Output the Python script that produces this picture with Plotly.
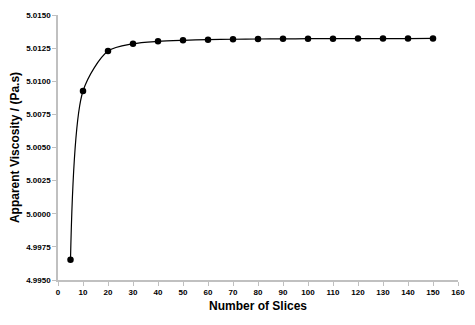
import plotly.graph_objects as go

slices = [5, 10, 20, 30, 40, 50, 60, 70, 80, 90, 100, 110, 120, 130, 140, 150]
viscosity = [4.99653, 5.00926, 5.01228, 5.01283, 5.01301, 5.01309, 5.01314, 5.01317,
             5.01319, 5.01320, 5.01321, 5.01321, 5.01322, 5.01322, 5.01322, 5.01323]

y_ticks = [4.995 + 0.0025 * i for i in range(9)]
x_ticks = list(range(0, 161, 10))

fig = go.Figure()
fig.add_trace(go.Scatter(
    x=slices, y=viscosity,
    mode="lines+markers",
    line=dict(color="black", width=1.2, shape="spline", smoothing=0.8),
    marker=dict(color="black", size=6.5),
    showlegend=False,
))

axis_font = dict(family="Liberation Sans, Arial", size=8, color="black", weight="bold")
title_font = dict(family="Liberation Sans, Arial", size=12, color="black")
fig.update_xaxes(
    range=[0, 160], tickvals=x_ticks, showgrid=False, zeroline=False, automargin=False,
    showline=True, linecolor="#c0c0c0", linewidth=1.5,
    ticks="outside", ticklen=4, tickcolor="#c0c0c0",
    tickfont=axis_font,
    title=dict(text="<b>Number of Slices</b>", font=title_font, standoff=5),
)
fig.update_yaxes(
    range=[4.995, 5.015], tickvals=y_ticks, tickformat=".4f", showgrid=False, zeroline=False, automargin=False,
    showline=True, linecolor="#c0c0c0", linewidth=1.5,
    ticks="outside", ticklen=4, tickcolor="#c0c0c0",
    tickfont=axis_font,
    title=dict(text="<b>Apparent Viscosity / (Pa.s)</b>", font=title_font, standoff=6),
)
# the page body adds an 8px offset, so the figure is 8px smaller
fig.update_layout(
    width=467, height=317,
    margin=dict(l=50, r=17, t=7, b=45),
    plot_bgcolor="white", paper_bgcolor="white",
)

fig.write_html("out.html")
